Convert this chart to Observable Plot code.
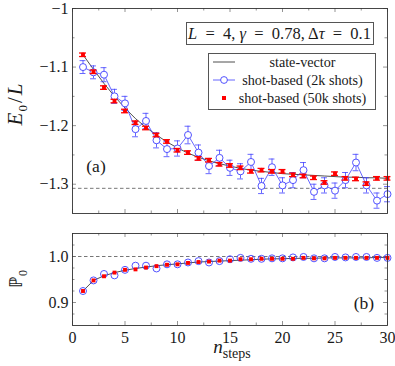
<!DOCTYPE html>
<html><head><meta charset="utf-8">
<script src="https://cdn.jsdelivr.net/npm/d3@7"></script>
<script src="https://cdn.jsdelivr.net/npm/@observablehq/plot@0.6"></script>
<style>
body{margin:0;background:#fff;}
#wrap{position:relative;width:395px;height:366px;font-family:"Liberation Serif",serif;color:#1a1a1a;overflow:hidden;}
#wrap svg.plot{position:absolute;left:0;}
.ov{position:absolute;white-space:nowrap;line-height:1;}
.box{position:absolute;border:1px solid #555;background:#fff;}
</style></head><body><div id="wrap"></div>
<script>
// ---------- data ----------
const steps = d3.range(1, 31);
const energySV = [-1.079,-1.104,-1.128,-1.150,-1.170,-1.188,-1.203,-1.216,-1.228,-1.238,-1.247,-1.254,-1.260,-1.265,-1.269,-1.273,-1.276,-1.278,-1.280,-1.282,-1.283,-1.284,-1.285,-1.286,-1.287,-1.288,-1.288,-1.289,-1.289,-1.290];
const energy2k = [-1.100,-1.109,-1.113,-1.150,-1.162,-1.206,-1.192,-1.225,-1.240,-1.239,-1.216,-1.246,-1.269,-1.255,-1.272,-1.278,-1.262,-1.303,-1.271,-1.302,-1.293,-1.276,-1.313,-1.302,-1.311,-1.293,-1.263,-1.302,-1.328,-1.317];
const err2k = [0.011,0.011,0.012,0.012,0.012,0.013,0.013,0.013,0.013,0.013,0.015,0.013,0.013,0.013,0.013,0.013,0.013,0.013,0.014,0.013,0.013,0.013,0.013,0.013,0.013,0.013,0.014,0.013,0.013,0.013];
const energy50k = [-1.079,-1.108,-1.135,-1.158,-1.175,-1.195,-1.204,-1.216,-1.227,-1.242,-1.246,-1.256,-1.259,-1.266,-1.268,-1.272,-1.278,-1.276,-1.278,-1.278,-1.284,-1.286,-1.289,-1.297,-1.282,-1.290,-1.291,-1.299,-1.290,-1.290];
const err50k = [0.003,0.003,0.003,0.003,0.003,0.003,0.003,0.003,0.003,0.003,0.003,0.003,0.003,0.003,0.003,0.003,0.003,0.003,0.003,0.003,0.003,0.003,0.003,0.003,0.003,0.003,0.003,0.003,0.003,0.003];
const exactEnergy = -1.307;

const probSV = [0.925,0.948,0.958,0.965,0.970,0.974,0.977,0.980,0.982,0.984,0.986,0.988,0.989,0.990,0.991,0.992,0.993,0.994,0.995,0.995,0.996,0.996,0.996,0.997,0.997,0.997,0.997,0.997,0.998,0.998];
const prob2k = [0.925,0.948,0.962,0.959,0.971,0.980,0.980,0.974,0.983,0.983,0.987,0.990,0.987,0.990,0.994,0.997,0.995,0.995,0.996,0.996,0.998,0.999,0.996,0.996,0.999,0.998,0.999,0.999,0.997,0.997];
const prob50k = [0.925,0.948,0.957,0.965,0.971,0.972,0.976,0.979,0.982,0.983,0.986,0.988,0.989,0.991,0.991,0.994,0.994,0.995,0.995,0.995,0.995,0.997,0.996,0.996,0.997,0.997,0.997,0.997,0.997,0.997];
const probTarget = 1.0;

const xMajor = [0,5,10,15,20,25,30];
const xMinor = [2.5,7.5,12.5,17.5,22.5,27.5];
const yTopMajor = [-1,-1.1,-1.2,-1.3];
const yTopMinor = [-1.05,-1.15,-1.25];
const yBotMajor = [0.9,1.0];
const yBotMinor = [0.875,0.925,0.95,0.975,1.025];

const rowsE = steps.map((n,i)=>({n, sv:energySV[i], a:energy2k[i], ea:err2k[i], b:energy50k[i], eb:err50k[i]}));
const rowsP = steps.map((n,i)=>({n, sv:probSV[i], a:prob2k[i], b:prob50k[i]}));

const W = 395, ML = 72, MR = 8;
const xDom = [0,30];
const BLUE = "#4040ff", RED = "#ff0000", FRAME = "#333";
const FONT = '"Liberation Serif", serif';

function tickRules(xd, yd, innerW, innerH, xMaj, xMin, yMaj, yMin){
  const ux = (xd[1]-xd[0])/innerW, uy = (yd[1]-yd[0])/innerH;
  const marks = [];
  const st = {stroke: "#666", strokeWidth: 0.7};
  for (const [arr, len] of [[xMaj,4],[xMin,2.5]]) {
    marks.push(Plot.ruleX(arr, {x: d=>d, y1: yd[0], y2: yd[0]+len*uy, ...st}));
    marks.push(Plot.ruleX(arr, {x: d=>d, y1: yd[1], y2: yd[1]-len*uy, ...st}));
  }
  for (const [arr, len] of [[yMaj,4],[yMin,2.5]]) {
    marks.push(Plot.ruleY(arr, {y: d=>d, x1: xd[0], x2: xd[0]+len*ux, ...st}));
    marks.push(Plot.ruleY(arr, {y: d=>d, x1: xd[1], x2: xd[1]-len*ux, ...st}));
  }
  return marks;
}

const fmtE = d => d === -1 ? "\u22121" : "\u2212" + Math.abs(d).toFixed(1);

// ---------- top panel ----------
const HT = 222, MTt = 8, MBt = 9;
const yTopDom = [-1.35, -1];
const topPlot = Plot.plot({
  width: W, height: HT, marginLeft: ML, marginRight: MR, marginTop: MTt, marginBottom: MBt,
  style: {fontFamily: FONT, fontSize: "16px", color: "#1a1a1a", background: "#fff"},
  x: {domain: xDom, axis: null},
  y: {domain: yTopDom, axis: null},
  marks: [
    Plot.ruleY([exactEnergy], {stroke: "#666", strokeWidth: 0.9, strokeDasharray: "3.5,2.5"}),
    ...tickRules(xDom, yTopDom, W-ML-MR, HT-MTt-MBt, xMajor, xMinor, yTopMajor, yTopMinor),
    Plot.axisY(yTopMajor, {tickSize: 0, tickPadding: 4, tickFormat: fmtE, fontSize: 16, fontFamily: FONT, label: null}),
    Plot.line(rowsE, {x: "n", y: "sv", stroke: "#222", strokeWidth: 0.8}),
    Plot.line(rowsE, {x: "n", y: "a", stroke: BLUE, strokeWidth: 0.8}),
    Plot.ruleX(rowsE, {x: "n", y1: d=>d.a-d.ea, y2: d=>d.a+d.ea, stroke: BLUE, strokeWidth: 0.8}),
    Plot.ruleY(rowsE, {y: d=>d.a-d.ea, x1: d=>d.n-0.28, x2: d=>d.n+0.28, stroke: BLUE, strokeWidth: 0.8}),
    Plot.ruleY(rowsE, {y: d=>d.a+d.ea, x1: d=>d.n-0.28, x2: d=>d.n+0.28, stroke: BLUE, strokeWidth: 0.8}),
    Plot.dot(rowsE, {x: "n", y: "a", r: 3.5, stroke: BLUE, fill: "#fff", strokeWidth: 0.9}),
    Plot.ruleX(rowsE, {x: "n", y1: d=>d.b-d.eb, y2: d=>d.b+d.eb, stroke: RED, strokeWidth: 1}),
    Plot.ruleY(rowsE, {y: d=>d.b-d.eb, x1: d=>d.n-0.33, x2: d=>d.n+0.33, stroke: RED, strokeWidth: 1.3}),
    Plot.ruleY(rowsE, {y: d=>d.b+d.eb, x1: d=>d.n-0.33, x2: d=>d.n+0.33, stroke: RED, strokeWidth: 1.3}),
    Plot.dot(rowsE, {x: "n", y: "b", r: 2.2, symbol: "square", fill: RED, stroke: "none"}),
    Plot.frame({stroke: FRAME, strokeWidth: 0.9})
  ]
});
topPlot.classList.add("plot");
topPlot.style.top = "0px";

// ---------- bottom panel ----------
const HB = 144, MTb = 11, MBb = 41;
const yBotDom = [0.85, 1.05];
const botPlot = Plot.plot({
  width: W, height: HB, marginLeft: ML, marginRight: MR, marginTop: MTb, marginBottom: MBb,
  style: {fontFamily: FONT, fontSize: "16px", color: "#1a1a1a", background: "#fff"},
  x: {domain: xDom, axis: null},
  y: {domain: yBotDom, axis: null},
  marks: [
    Plot.ruleY([probTarget], {stroke: "#666", strokeWidth: 0.9, strokeDasharray: "3.5,2.5"}),
    ...tickRules(xDom, yBotDom, W-ML-MR, HB-MTb-MBb, xMajor, xMinor, yBotMajor, yBotMinor),
    Plot.axisY(yBotMajor, {tickSize: 0, tickPadding: 4, tickFormat: d=>d.toFixed(1), fontSize: 16, fontFamily: FONT, label: null}),
    Plot.axisX(xMajor, {tickSize: 0, tickPadding: 6, tickFormat: d=>String(d), fontSize: 16, fontFamily: FONT, label: null}),
    Plot.line(rowsP, {x: "n", y: "sv", stroke: "#222", strokeWidth: 0.8}),
    Plot.dot(rowsP, {x: "n", y: "a", r: 3.5, stroke: BLUE, fill: "none", strokeWidth: 0.9}),
    Plot.dot(rowsP, {x: "n", y: "b", r: 2.2, symbol: "square", fill: RED, stroke: "none"}),
    Plot.frame({stroke: FRAME, strokeWidth: 0.9})
  ]
});
botPlot.classList.add("plot");
botPlot.style.top = HT + "px";

const wrap = document.getElementById("wrap");
wrap.appendChild(topPlot);
wrap.appendChild(botPlot);

// ---------- overlays (titles, legend, annotations) ----------
function ov(html, css){ const d = document.createElement("div"); d.className = "ov"; d.innerHTML = html; Object.assign(d.style, css); wrap.appendChild(d); return d; }

ov('<i>E</i><sub style="font-size:13px">0</sub><span style="padding:0 1px">/</span><i>L</i>', {left: "17px", top: "104px", fontSize: "21px", letterSpacing: "1px", transform: "translate(-50%,-50%) rotate(-90deg)"});
ov('\u2119<sub style="font-size:12px">0</sub>', {left: "18px", top: "279px", fontSize: "18px", fontFamily: FONT, transform: "translate(-50%,-50%) rotate(-90deg)"});
ov('<i>n</i><sub style="font-size:14px">steps</sub>', {left: "232px", top: "349px", fontSize: "19px", transform: "translate(-50%,-50%)"});

ov('(a)', {left: "96px", top: "167px", fontSize: "17.5px", transform: "translate(-50%,-50%)"});
ov('(b)', {left: "364px", top: "304px", fontSize: "17.5px", transform: "translate(-50%,-50%)"});

const pb = document.createElement("div"); pb.className = "box";
Object.assign(pb.style, {left: "186px", top: "22px", width: "186px", height: "21px"});
wrap.appendChild(pb);
ov('<i>L</i>\u2002=\u20024, <i>\u03b3</i>\u2002=\u20020.78, \u0394<i>\u03c4</i>\u2002=\u20020.1', {left: "279.5px", top: "33.5px", fontSize: "16.5px", transform: "translate(-50%,-50%)"});

const lg = document.createElement("div"); lg.className = "box";
Object.assign(lg.style, {left: "208px", top: "53px", width: "166px", height: "55px"});
wrap.appendChild(lg);
const legendItems = [
  {label: "state-vector", y: 62, sym: '<line x1="0" y1="5" x2="22" y2="5" stroke="#222" stroke-width="0.8"/>'},
  {label: "shot-based (2k shots)", y: 80, sym: '<line x1="0" y1="5" x2="22" y2="5" stroke="'+BLUE+'" stroke-width="0.8"/><circle cx="11" cy="5" r="3.4" fill="#fff" stroke="'+BLUE+'" stroke-width="0.9"/>'},
  {label: "shot-based (50k shots)", y: 98, sym: '<rect x="9" y="3" width="4" height="4" fill="'+RED+'"/>'}
];
for (const it of legendItems) {
  const s = document.createElementNS("http://www.w3.org/2000/svg", "svg");
  s.setAttribute("width", 22); s.setAttribute("height", 10);
  s.style.position = "absolute"; s.style.left = "213px"; s.style.top = (it.y - 5) + "px";
  s.innerHTML = it.sym;
  wrap.appendChild(s);
  ov(it.label, {left: "302.5px", top: it.y + "px", fontSize: "14.2px", transform: "translate(-50%,-50%)"});
}
</script></body></html>
